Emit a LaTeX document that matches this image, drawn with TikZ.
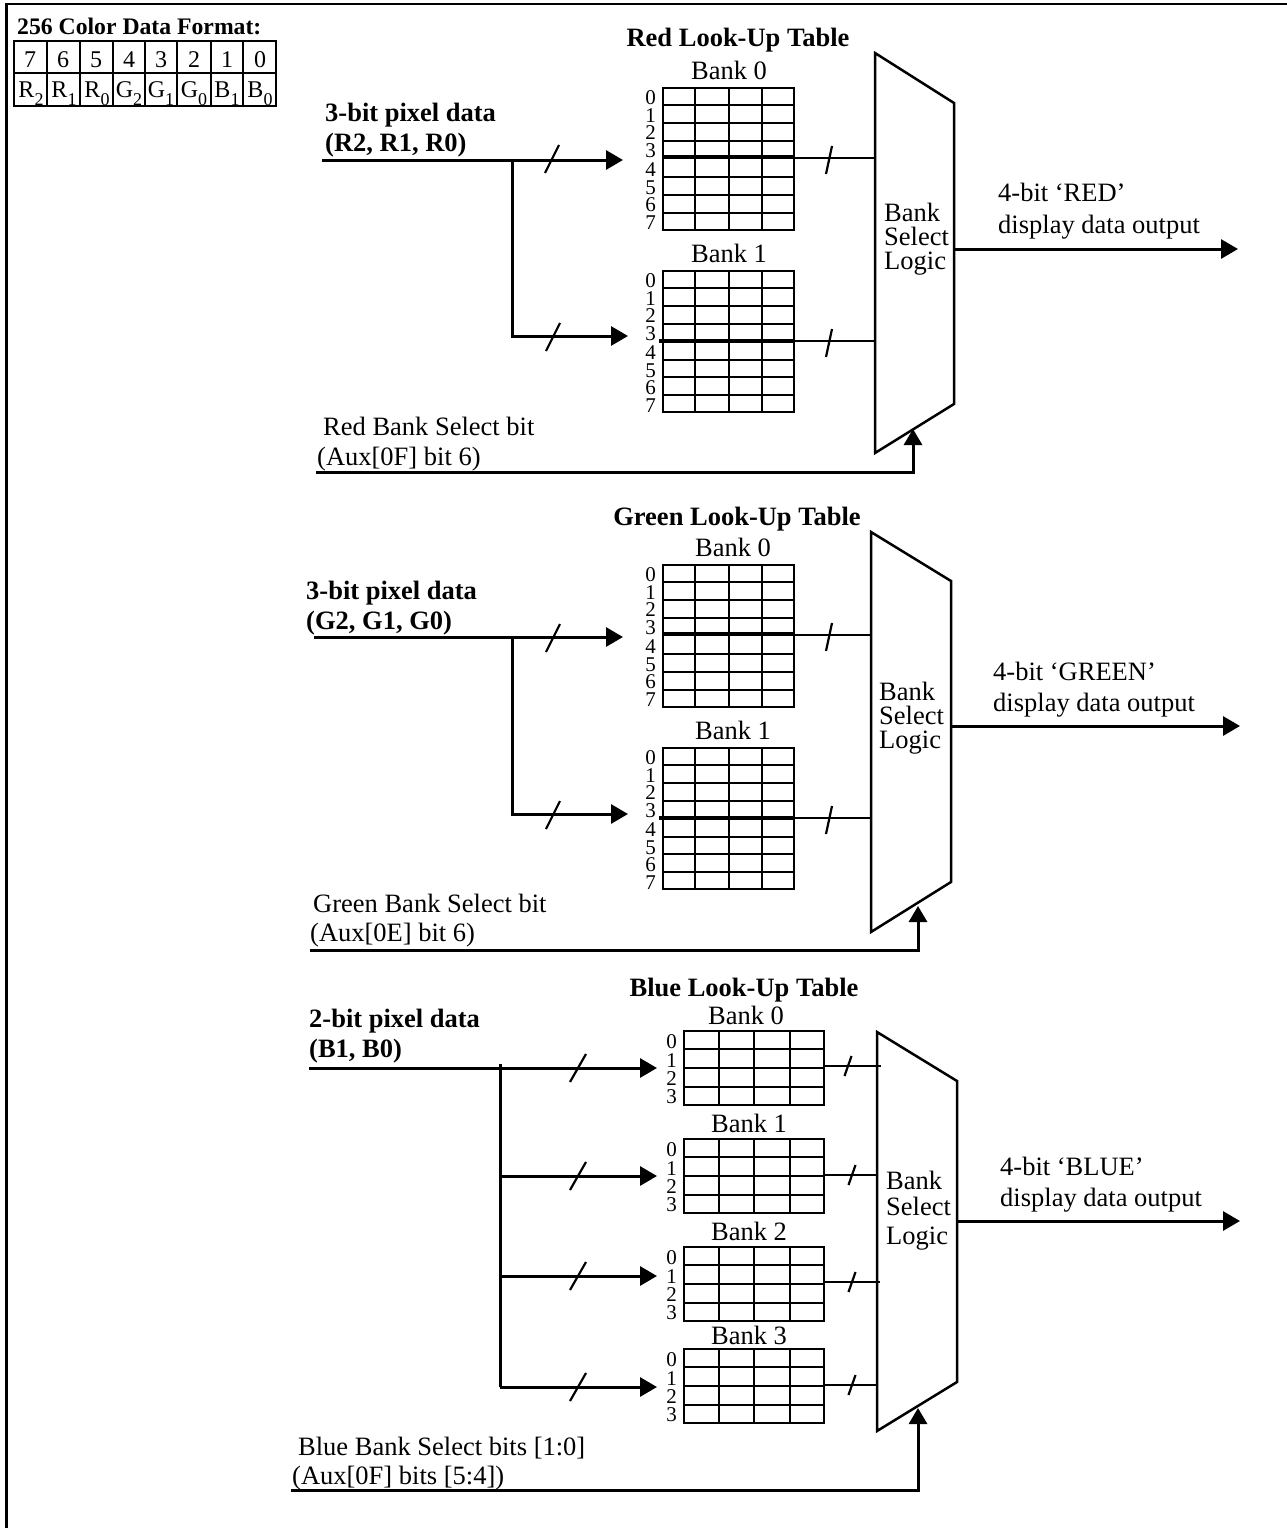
\documentclass[tikz,border=0pt]{standalone}
\usepackage{fontspec}
\setmainfont{Liberation Serif}
\usetikzlibrary{arrows.meta,calc}
\newcommand{\txtsize}{\fontsize{26.5}{26.5}\selectfont}
\newcommand{\sub}[1]{\raisebox{-8pt}{\fontsize{18}{18}\selectfont #1}}
\tikzset{
  lbl/.style={font=\txtsize,inner sep=0pt,anchor=base west},
  hdr/.style={font=\txtsize\bfseries,inner sep=0pt,anchor=base west},
  ttl/.style={font=\txtsize\bfseries,inner sep=0pt,anchor=base},
  bankname/.style={font=\txtsize,inner sep=0pt,anchor=base},
  rownum/.style={font=\fontsize{21}{21}\selectfont,inner sep=0pt},
  lut/.style={draw,line width=2.2pt,inner sep=0pt,anchor=north west},
  cell/.style={font=\fontsize{24}{24}\selectfont,inner sep=0pt,anchor=base},
  grid/.style={line width=2pt},
  wire/.style={line width=2.8pt},
  bus/.style={line width=3.6pt},
  nyil/.style={line width=3pt,-{Triangle[length=17pt,width=19pt]}},
  selnyil/.style={line width=3pt,-{Triangle[length=16pt,width=18pt]}},
  tick/.style={line width=2.2pt},
  mux/.style={line width=2.5pt,line join=miter},
}
% one table: name, left, top, width, height, list of row label offsets
\newcommand{\lutbank}[6]{
  \node[lut,minimum width=#4pt,minimum height=#5pt] (#1) at (#2,#3) {};
  \foreach \i in {1,2,3} \draw[grid] ($(#1.north west)!\i/4!(#1.north east)$) -- ($(#1.south west)!\i/4!(#1.south east)$);
  \foreach \n/\dy in {#6} {
    \node[rownum] (#1n\n) at ($(#1.north west)+(-11.5,\dy)$) {\n};
  }
}
\newcommand{\lutrows}[2]{
  \foreach \f in {#2} \draw[grid] ($(#1.north west)!\f!(#1.south west)$) -- ($(#1.north east)!\f!(#1.south east)$);
}
\newcommand{\busmark}[2]{\draw[tick] ($(#1)+(-#2,14)$) -- ($(#1)+(#2,-14)$);}
\begin{document}
\begin{tikzpicture}[x=1pt,y=-1pt]
  \useasboundingbox (0,0) rectangle (1287,1528);
  \draw[line width=2.2pt] (6.5,1528) -- (6.5,4) -- (1287,4);

  % color format table
  \node[font=\fontsize{23.7}{24}\selectfont\bfseries,inner sep=0pt,anchor=base west] (fmttitle) at (17,35) {256 Color Data Format:};
  \draw[grid] (14,41) rectangle (276,106);
  \draw[grid] (14,73) -- (276,73);
  \foreach \x in {47,80,113,145,177,211,243} \draw[grid] (\x,41) -- (\x,106);
  \foreach \t/\x in {7/30,6/63,5/96,4/129,3/161,2/194,1/227,0/260}
    \node[cell] (bit\t) at (\x,67) {\t};
  \foreach \t/\s/\x/\k in {R/2/31/a,R/1/64/b,R/0/97/c,G/2/129/d,G/1/161/e,G/0/194/f,B/1/227/g,B/0/260/h}
    \node[cell] (col\k) at (\x,97) {\t\sub{\s}};

  % red
  \node[ttl] (rtitle) at (738,47) {Red Look-Up Table};
  \node[bankname] (rname0) at (729,79) {Bank 0};
  \lutbank{rb0}{662}{87}{131}{142}{0/11,1/28.5,2/46,3/63.5,4/83,5/100.5,6/118,7/135.5}
  \lutrows{rb0}{0.125,0.25,0.375,0.625,0.75,0.875}
  \node[bankname] (rname1) at (729,262) {Bank 1};
  \lutbank{rb1}{662}{270}{131}{141}{0/11,1/28.5,2/46,3/63.5,4/83,5/100.5,6/118,7/135.5}
  \lutrows{rb1}{0.125,0.25,0.375,0.625,0.75,0.875}
  \coordinate (rma) at (875,53); \coordinate (rmb) at (954,103);
  \coordinate (rmc) at (954,404); \coordinate (rmd) at (875,453);
  \draw[mux] (rma) -- (rmb) -- (rmc) -- (rmd) -- cycle;
  \node[lbl] (rbs) at (884,221) {Bank};
  \node[lbl] (rsl) at (884,245) {Select};
  \node[lbl] (rlg) at (884,269) {Logic};
  \node[hdr] (rpix) at (325,121) {3-bit pixel data};
  \node[hdr] (rpixb) at (325,151) {(R2, R1, R0)};
  \coordinate (rin) at (322,160); \coordinate (rjoin) at (512,160);
  \coordinate (rturn) at (512,336); \coordinate (rh0) at (623,160); \coordinate (rh1) at (628,336);
  \draw[nyil] (rin) -- (rh0);
  \draw[nyil] (rjoin) -- (rturn) -- (rh1);
  \coordinate (rt0) at (552,159); \coordinate (rt1) at (553,337);
  \busmark{rt0}{7} \busmark{rt1}{7}
  \draw[bus] (rb0.west |- 0,157) -- (rb0.east |- 0,157);
  \draw[bus] (659,341) -- (rb1.east |- 0,341);
  \draw[wire] (rb0.east |- 0,158) -- (rma |- 0,158);
  \draw[wire] (rb1.east |- 0,341) -- (rma |- 0,341);
  \coordinate (rt2) at (829,160); \coordinate (rt3) at (829,343);
  \busmark{rt2}{3} \busmark{rt3}{3}
  \coordinate (rout) at (1238,249);
  \draw[nyil] (rmb |- rout) -- (rout);
  \node[lbl] (routa) at (998,201) {4-bit ‘RED’};
  \node[lbl] (routb) at (998,233) {display data output};
  \node[lbl] (rsel) at (323,435) {Red Bank Select bit};
  \node[lbl] (rselb) at (317,465) {(Aux[0F] bit 6)};
  \coordinate (rs0) at (316,472); \coordinate (rs1) at (913,472); \coordinate (rs2) at (913,429);
  \draw[selnyil] (rs0) -- (rs1) -- (rs2);

  % green
  \node[ttl] (gtitle) at (737,525) {Green Look-Up Table};
  \node[bankname] (gname0) at (733,556) {Bank 0};
  \lutbank{gb0}{662}{564}{131}{142}{0/11,1/28.5,2/46,3/63.5,4/83,5/100.5,6/118,7/135.5}
  \lutrows{gb0}{0.125,0.25,0.375,0.625,0.75,0.875}
  \node[bankname] (gname1) at (733,739) {Bank 1};
  \lutbank{gb1}{662}{747}{131}{141}{0/11,1/28.5,2/46,3/63.5,4/83,5/100.5,6/118,7/135.5}
  \lutrows{gb1}{0.125,0.25,0.375,0.625,0.75,0.875}
  \coordinate (gma) at (871,532); \coordinate (gmb) at (951,581);
  \coordinate (gmc) at (951,882); \coordinate (gmd) at (871,932);
  \draw[mux] (gma) -- (gmb) -- (gmc) -- (gmd) -- cycle;
  \node[lbl] (gbs) at (879,700) {Bank};
  \node[lbl] (gsl) at (879,724) {Select};
  \node[lbl] (glg) at (879,748) {Logic};
  \node[hdr] (gpix) at (306,599) {3-bit pixel data};
  \node[hdr] (gpixb) at (306,629) {(G2, G1, G0)};
  \coordinate (gin) at (314,637); \coordinate (gjoin) at (512,637);
  \coordinate (gturn) at (512,814); \coordinate (gh0) at (623,637); \coordinate (gh1) at (628,814);
  \draw[nyil] (gin) -- (gh0);
  \draw[nyil] (gjoin) -- (gturn) -- (gh1);
  \coordinate (gt0) at (553,638); \coordinate (gt1) at (553,815);
  \busmark{gt0}{7} \busmark{gt1}{7}
  \draw[bus] (gb0.west |- 0,634) -- (gb0.east |- 0,634);
  \draw[bus] (659,818) -- (gb1.east |- 0,818);
  \draw[wire] (gb0.east |- 0,635) -- (gma |- 0,635);
  \draw[wire] (gb1.east |- 0,818) -- (gma |- 0,818);
  \coordinate (gt2) at (829,637); \coordinate (gt3) at (829,820);
  \busmark{gt2}{3} \busmark{gt3}{3}
  \coordinate (gout) at (1240,726);
  \draw[nyil] (gmb |- gout) -- (gout);
  \node[lbl] (gouta) at (993,680) {4-bit ‘GREEN’};
  \node[lbl] (goutb) at (993,711) {display data output};
  \node[lbl] (gsel) at (313,912) {Green Bank Select bit};
  \node[lbl] (gselb) at (310,941) {(Aux[0E] bit 6)};
  \coordinate (gs0) at (310,950); \coordinate (gs1) at (918,950); \coordinate (gs2) at (918,906);
  \draw[selnyil] (gs0) -- (gs1) -- (gs2);

  % blue
  \node[ttl] (btitle) at (744,996) {Blue Look-Up Table};
  \foreach \b/\cx/\ny/\ty/\hy/\oy/\ox/\ex in {0/746/1024/1030/1068/1066/848/881,1/749/1132/1138/1176/1175/852/877,2/749/1240/1246/1276/1282/852/880,3/749/1344/1348/1387/1385/852/877} {
    \node[bankname] (bname\b) at (\cx,\ny) {Bank \b};
    \lutbank{bb\b}{683}{\ty}{140}{73.5}{0/12,1/30.5,2/49,3/67}
    \lutrows{bb\b}{0.25,0.5,0.75}
    \coordinate (bh\b) at (657,\hy);
    \coordinate (bo\b) at (bb\b.east |- 0,\oy);
    \draw[nyil] (bh\b -| 500,0) -- (bh\b);
    \draw[wire] (bo\b) -- (\ex,\oy);
    \coordinate (bt\b) at (578,\hy);
    \busmark{bt\b}{8}
    \coordinate (bu\b) at (\ox,\oy);
    \draw[tick] ($(bu\b)+(-3.5,10)$) -- ($(bu\b)+(3.5,-10)$);
  }
  \coordinate (bma) at (877,1032); \coordinate (bmb) at (957,1081);
  \coordinate (bmc) at (957,1382); \coordinate (bmd) at (877,1431);
  \draw[mux] (bma) -- (bmb) -- (bmc) -- (bmd) -- cycle;
  \node[lbl] (bbs) at (886,1189) {Bank};
  \node[lbl] (bsl) at (886,1215) {Select};
  \node[lbl] (blg) at (886,1244) {Logic};
  \node[hdr] (bpix) at (309,1027) {2-bit pixel data};
  \node[hdr] (bpixb) at (309,1057) {(B1, B0)};
  \coordinate (bin) at (309,1068); \coordinate (bjoin) at (500,1064); \coordinate (bturn) at (500,1387);
  \draw[nyil,-] (bin) -- (bjoin |- bin);
  \draw[nyil,-] (bjoin) -- (bturn);
  \coordinate (bout) at (1240,1221);
  \draw[nyil] (bmb |- bout) -- (bout);
  \node[lbl] (bouta) at (1000,1175) {4-bit ‘BLUE’};
  \node[lbl] (boutb) at (1000,1206) {display data output};
  \node[lbl] (bsel) at (298,1455) {Blue Bank Select bits [1:0]};
  \node[lbl] (bselb) at (292,1484) {(Aux[0F] bits [5:4])};
  \coordinate (bs0) at (291,1490); \coordinate (bs1) at (918,1490); \coordinate (bs2) at (918,1408);
  \draw[selnyil] (bs0) -- (bs1) -- (bs2);
\end{tikzpicture}
\end{document}
